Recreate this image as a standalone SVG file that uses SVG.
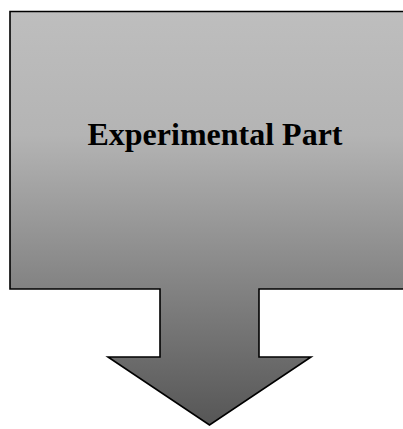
<svg xmlns="http://www.w3.org/2000/svg" width="403" height="429" viewBox="0 0 403 429">
<style>
.shape{stroke:#000;stroke-width:1.6;stroke-linejoin:miter}
.label{font-family:"Liberation Serif","Times New Roman",serif;font-weight:bold;font-size:32px;fill:#000}
</style>
<defs>
<linearGradient id="g" gradientUnits="userSpaceOnUse" x1="0" y1="11" x2="0" y2="425">
<stop offset="0" stop-color="#bebebe"/>
<stop offset="0.3" stop-color="#b4b4b4"/>
<stop offset="1" stop-color="#565656"/>
</linearGradient>
</defs>
<rect width="403" height="429" fill="#fff"/>
<g id="node-experimental-part">
<path class="shape" fill="url(#g)" d="M10,11.5 H412 V289 H259 V357 H311 L209.5,425 L108,357 H160 V289 H10 Z"/>
<text class="label" x="215" y="144.5" text-anchor="middle">Experimental Part</text>
</g>
<g id="connectors"></g>
</svg>
